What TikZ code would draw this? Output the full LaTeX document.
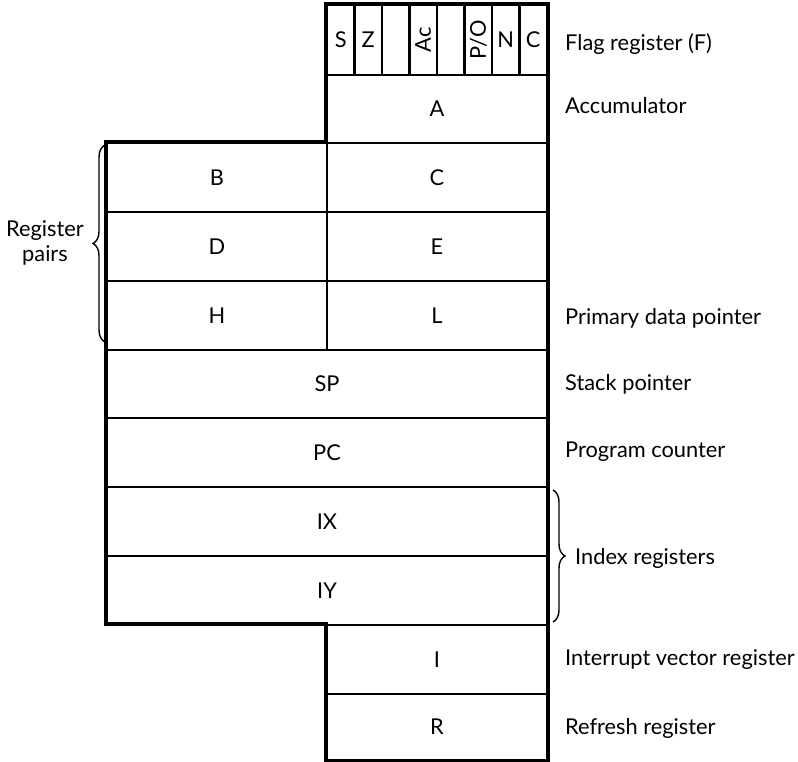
\documentclass[tikz,border=0pt]{standalone}
\usepackage{fontspec}
\setmainfont{Lato}
\usetikzlibrary{decorations.pathreplacing}
\newcommand\regfont{\fontsize{21.8}{25}\selectfont}
\begin{document}
\begin{tikzpicture}[x=1pt,y=-1pt,
  reg/.style={draw,line width=2.4pt,inner sep=0pt,font=\regfont,anchor=center},
  flag/.style={reg,minimum width=27.5pt,minimum height=70pt},
  half/.style={reg,minimum width=220pt,minimum height=69pt},
  full/.style={reg,minimum width=440pt,minimum height=69pt},
  lbl/.style={anchor=west,inner sep=0pt,font=\regfont},
  outline/.style={line width=4pt,line join=miter},
  bracestyle/.style={decorate,line width=1.4pt,decoration={brace,amplitude=12pt}}]
\useasboundingbox (0,0) rectangle (798,762);
% flag register
\node[flag] (fS) at (340.75,40) {S};
\node[flag] (fZ) at (368.25,40) {Z};
\node[flag] (fX1) at (395.75,40) {};
\node[flag] (fAc) at (423.25,40) {\rotatebox{90}{Ac}};
\node[flag] (fX2) at (450.75,40) {};
\node[flag] (fPO) at (478.25,40) {\rotatebox{90}{P/O}};
\node[flag] (fN) at (505.75,40) {N};
\node[flag] (fC) at (533.25,40) {C};
% registers
\node[half,minimum height=68pt] (A) at (437,109) {A};
\node[half] (B) at (217,177.5) {B};
\node[half] (C) at (437,177.5) {C};
\node[half] (D) at (217,246.5) {D};
\node[half] (E) at (437,246.5) {E};
\node[half] (H) at (217,315.5) {H};
\node[half] (L) at (437,315.5) {L};
\node[full,minimum height=68pt] (SP) at (327,384) {SP};
\node[full] (PC) at (327,452.5) {PC};
\node[full] (IX) at (327,521.5) {IX};
\node[full] (IY) at (327,590.5) {IY};
\node[half] (I) at (437,659.5) {I};
\node[half,minimum height=66pt] (R) at (437,727) {R};
% outline
\draw[outline] (fS.north west) -| (R.south east) -| (I.north west) -| (B.north west) -| cycle;
% labels
\node[lbl] (lF) at (565,44) {Flag register (F)};
\node[lbl] (lA) at (565,106) {Accumulator};
\node[lbl] (lHL) at (565,318) {Primary data pointer};
\node[lbl] (lSP) at (565,384) {Stack pointer};
\node[lbl] (lPC) at (565,452) {Program counter};
\node[lbl] (lI) at (565,660) {Interrupt vector register};
\node[lbl] (lR) at (565,728) {Refresh register};
% braces
\coordinate (bl1) at (105,342);
\coordinate (bl2) at (105,145);
\draw[bracestyle] (bl1) -- (bl2);
\node[font=\regfont,align=center,inner sep=0pt] (lpairs) at (45,243) {Register\\pairs};
\coordinate (br1) at (553,490);
\coordinate (br2) at (553,622);
\draw[bracestyle] (br1) -- (br2);
\node[lbl] (lIX) at (575,558) {Index registers};
\end{tikzpicture}
\end{document}
